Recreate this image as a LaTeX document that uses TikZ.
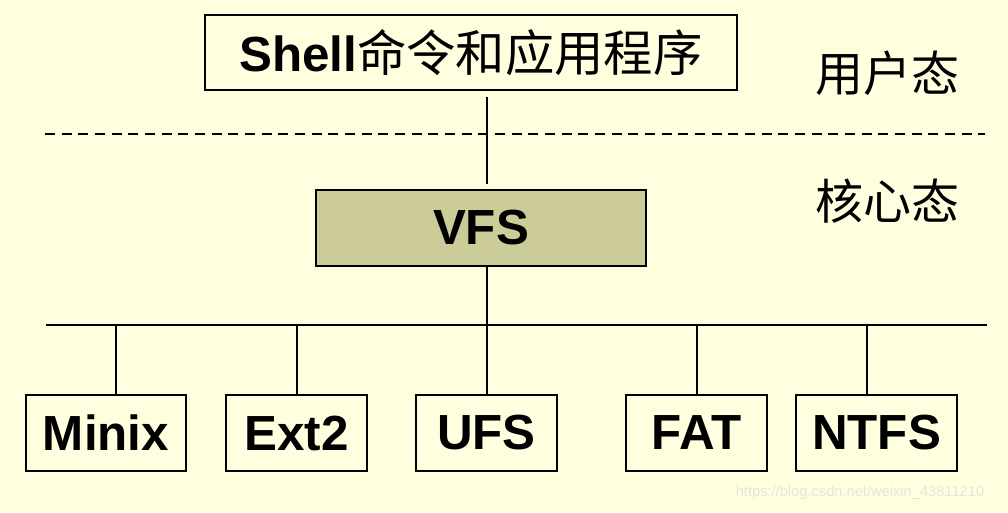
\documentclass[tikz,border=0pt]{standalone}
\usepackage{fontspec}
\setmainfont{Liberation Sans}
\newfontfamily\cjk{Noto Sans CJK SC}
\definecolor{bgyellow}{rgb}{1, 1, 0.88}
\definecolor{vfsolive}{rgb}{0.8, 0.8, 0.6}
\definecolor{markgray}{rgb}{0.9, 0.9, 0.86}
\usetikzlibrary{positioning,calc}

\tikzset{
	fsbox/.style={draw, line width=1.5pt, inner sep=0pt, minimum height=57pt, font=\bfseries\fontsize{37}{40}\selectfont},
	modelabel/.style={font=\cjk\fontsize{36}{40}\selectfont},
	link/.style={line width=1.5pt}
}

\begin{document}
\begin{tikzpicture}[x=0.75pt,y=0.75pt,yscale=-1,xscale=1]
	%set diagram size: 1008 x 512
	\fill [bgyellow] (0,0) rectangle (1008,512);
	\useasboundingbox (0,0) rectangle (1008,512);
	
	%Shape: Rectangle [shell]
	\node (shell) at (471,52.5) [fsbox, minimum width=399pt, minimum height=56pt] {Shell{\cjk\mdseries 命令和应用程序}};
	%Shape: Rectangle [vfs]
	\node (vfs) at (481,228) [fsbox, fill=vfsolive, minimum width=248pt] {VFS};
	
	%Shape: Rectangles [file systems]
	\node (minix) at (106,433) [fsbox, minimum width=120pt] {Minix};
	\node (ext2) at (296.5,433) [fsbox, minimum width=106pt] {Ext2};
	\node (ufs) at (486.5,433) [fsbox, minimum width=106pt] {UFS};
	\node (fat) at (696.5,433) [fsbox, minimum width=106pt] {FAT};
	\node (ntfs) at (876.5,433) [fsbox, minimum width=121pt] {NTFS};
	
	%Straight Lines [user / kernel border]
	\coordinate (dashL) at (45,134);
	\coordinate (dashR) at (985,134);
	\draw [line width=1.5pt, dash pattern=on 7.5pt off 5pt] (dashL) -- (dashR);
	
	%Straight Lines [bus]
	\coordinate (busL) at (46,325);
	\coordinate (busR) at (987,325);
	\draw [link] (busL) -- (busR);
	
	%Straight Lines [shell - vfs - bus]
	\draw [link] ([yshift=4.5pt]shell.south -| ufs) -- ([yshift=-4pt]vfs.north -| ufs);
	\draw [link] (vfs.south -| ufs) -- (ufs.north);
	
	%Straight Lines [drops]
	\draw [link] ([xshift=7.5pt]minix.north) -- ([xshift=7.5pt]minix.north |- busL);
	\draw [link] (ext2.north) -- (ext2.north |- busL);
	\draw [link] (fat.north) -- (fat.north |- busL);
	\draw [link] ([xshift=-7pt]ntfs.north) -- ([xshift=-7pt]ntfs.north |- busL);
	
	% Text Node
	\node (user) at (887,73) [modelabel] {用户态};
	% Text Node
	\node (kernel) at (887,201) [modelabel] {核心态};
	% Text Node
	\node (mark) at (860,493) [color=markgray, font=\fontsize{11}{12}\selectfont] {https://blog.csdn.net/weixin\_43811210};
	
\end{tikzpicture}
\end{document}
